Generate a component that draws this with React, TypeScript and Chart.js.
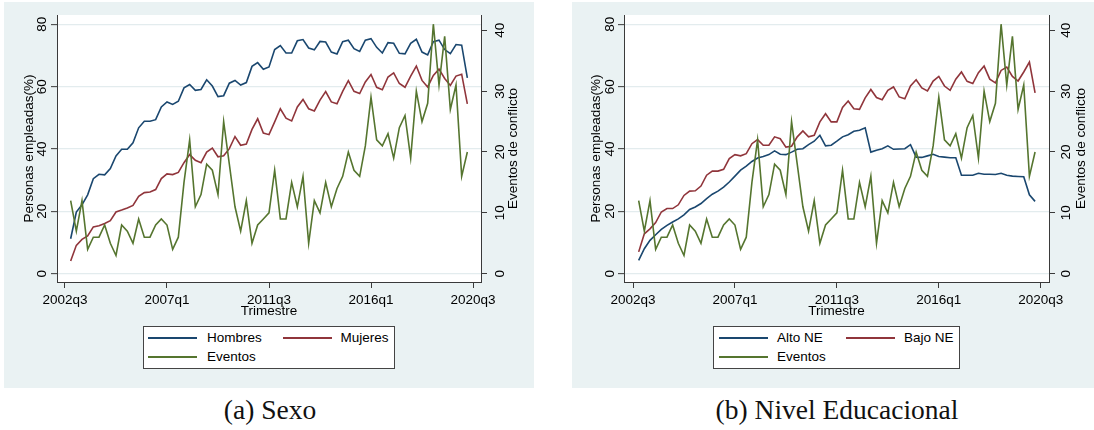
import React, { useEffect, useRef } from "react";
import { Chart, registerables } from "chart.js";

Chart.register(...registerables);

const FONT = "'Liberation Sans', Arial, Helvetica, sans-serif";
const SERIF = "'Liberation Serif', 'Times New Roman', serif";
const BG = "#EAF2F3";
const GRID = "#E3ECEE";
const AXIS = "#3a3a3a";
const NAVY = "#1A476F";
const MAROON = "#90353B";
const GREEN = "#55752F";

// ---------- data ----------
// quarters 2002q4 .. 2020q2
const quarters: string[] = [];
for (let y = 2002; y <= 2020; y++) {
  for (let q = 1; q <= 4; q++) {
    if ((y === 2002 && q < 4) || (y === 2020 && q > 2)) continue;
    quarters.push(`${y}q${q}`);
  }
}
const xTickLabels = ["2002q3", "2007q1", "2011q3", "2016q1", "2020q3"];
const leftTicks = [0, 20, 40, 60, 80];
const rightTicks = [0, 10, 20, 30, 40];

const hombres = [
  11.2, 19.8, 22.1, 25.3, 30.5, 31.9, 31.7, 33.7, 37.8, 39.9, 39.9, 42.0,
  46.8, 48.9, 48.9, 49.4, 53.5, 55.1, 54.3, 55.3, 59.6, 60.7, 58.8, 59.1,
  62.2, 60.2, 56.8, 57.1, 61.1, 62.0, 60.5, 61.3, 66.5, 67.7, 65.6, 66.3,
  71.9, 73.2, 70.8, 70.8, 74.7, 75.1, 72.4, 71.8, 74.5, 74.3, 71.1, 70.5,
  74.4, 74.9, 72.2, 71.3, 74.9, 75.4, 72.6, 70.8, 74.1, 73.9, 70.7, 70.5,
  73.9, 75.2, 71.1, 70.2, 74.4, 74.9, 71.9, 70.6, 73.5, 73.3, 62.8,
];
const mujeres = [
  4.1, 9.1, 11.0, 12.1, 15.0, 15.4, 16.1, 17.0, 19.8, 20.4, 21.1, 21.9,
  24.8, 26.0, 26.2, 27.0, 30.5, 32.0, 31.8, 32.5, 35.6, 38.2, 36.4, 35.6,
  39.0, 40.3, 37.5, 37.8, 40.1, 44.0, 41.2, 41.6, 46.3, 49.7, 45.1, 44.6,
  48.7, 52.9, 49.9, 49.0, 53.5, 55.9, 52.9, 52.2, 55.7, 58.4, 55.1, 54.5,
  58.5, 61.9, 58.5, 57.8, 61.5, 63.9, 59.8, 59.0, 63.1, 64.4, 61.0, 59.8,
  63.4, 66.6, 62.0, 59.9, 63.6, 65.6, 62.6, 60.4, 63.4, 64.0, 54.5,
];
const eventos = [
  12, 7, 12, 4, 6, 6, 8, 5, 3, 8, 7, 5,
  9, 6, 6, 8, 9, 8, 4, 6, 15, 22, 11, 13,
  18, 17, 13, 25, 18, 11, 7, 12, 5, 8, 9, 10,
  17, 9, 9, 15, 11, 16, 5, 12, 10, 15, 11, 14,
  16, 20, 17, 16, 21, 29, 22, 21, 23, 19, 24, 26,
  19, 30, 25, 28, 41, 31, 39, 27, 31, 16, 20,
];
const altoNE = [
  4.3, 8.0, 10.7, 12.5, 14.2, 15.5, 16.6, 17.6, 18.9, 20.6, 21.4, 22.5,
  24.1, 25.5, 26.5, 27.8, 29.4, 31.3, 33.2, 34.5, 36.0, 37.1, 37.6, 38.2,
  39.4, 38.3, 38.2, 39.0, 39.9, 40.1, 41.4, 42.5, 44.4, 41.0, 41.2, 42.5,
  43.9, 44.6, 45.7, 46.0, 46.8, 39.0, 39.6, 40.1, 41.0, 39.9, 40.0, 40.1,
  41.4, 37.4, 37.3, 37.8, 38.3, 37.6, 37.4, 37.2, 37.2, 31.6, 31.6, 31.6,
  32.2, 31.9, 31.9, 31.8, 32.2, 31.6, 31.3, 31.2, 31.1, 25.3, 23.2,
];
const bajoNE = [
  7.0, 12.8, 14.4, 16.4, 19.8, 20.9, 20.9, 22.1, 25.1, 26.5, 26.6, 28.1,
  31.6, 32.9, 32.9, 33.5, 36.9, 38.2, 37.8, 38.5, 41.7, 43.0, 41.2, 41.2,
  43.9, 43.3, 40.6, 40.9, 43.9, 45.8, 43.9, 44.4, 48.7, 51.3, 48.7, 48.7,
  53.3, 55.4, 52.9, 52.7, 56.4, 59.1, 56.5, 55.8, 58.8, 59.9, 56.7, 56.1,
  60.2, 62.2, 59.6, 58.6, 61.8, 63.3, 60.2, 58.8, 62.4, 64.7, 61.7, 61.0,
  64.5, 66.6, 62.4, 61.2, 65.2, 66.3, 63.3, 61.8, 64.7, 67.9, 58.0,
];

// quarter string -> index, 2002q3 = 0
const qIndex = (s: string) => {
  const [y, q] = s.split("q").map(Number);
  return (y - 2002) * 4 + (q - 3);
};

type Series = { label: string; data: number[]; color: string; axis: "y" | "y1" };
type LegendItem = { label: string; color: string; lineX: number; textX: number; y: number };

type PanelCfg = {
  left: number;
  top: number;
  width: number;
  height: number;
  plotLeft: number;
  plotRight: number;
  xMin: number;
  xMax: number;
  lTickDx: number;
  rTickDx: number;
  lTitleDx: number;
  rTitleDx: number;
  series: Series[];
  legendBox: { left: number; top: number; width: number; height: number };
  legendItems: LegendItem[];
  caption: string;
  captionX: number;
};

const FS = 13.5;

function Panel({ cfg }: { cfg: PanelCfg }) {
  const ref = useRef<HTMLCanvasElement>(null);
  useEffect(() => {
    if (!ref.current) return;
    const plotTop = 13;
    const plotBottom = 280;
    const xAxisH = 30;
    const rightW = cfg.width - cfg.plotRight;
    const stataPlugin = {
      id: "stataText",
      beforeDraw(chart: any) {
        const a = chart.chartArea;
        const ctx = chart.ctx;
        ctx.save();
        ctx.fillStyle = "#ffffff";
        ctx.fillRect(a.left, a.top, a.right - a.left, a.bottom - a.top);
        ctx.restore();
      },
      afterDraw(chart: any) {
        const a = chart.chartArea;
        const ctx = chart.ctx;
        const yL = chart.scales.y;
        const yR = chart.scales.y1;
        ctx.save();
        ctx.fillStyle = "#000";
        ctx.font = `${FS}px ${FONT}`;
        ctx.textAlign = "center";
        ctx.textBaseline = "alphabetic";
        const vOff = 0.358 * FS;
        for (const v of leftTicks) {
          const py = yL.getPixelForValue(v);
          ctx.save();
          ctx.translate(a.left + cfg.lTickDx + vOff, py);
          ctx.rotate(-Math.PI / 2);
          ctx.fillText(String(v), 0, 0);
          ctx.restore();
        }
        for (const v of rightTicks) {
          const py = yR.getPixelForValue(v);
          ctx.save();
          ctx.translate(a.right + cfg.rTickDx + vOff, py);
          ctx.rotate(-Math.PI / 2);
          ctx.fillText(String(v), 0, 0);
          ctx.restore();
        }
        const midY = (a.top + a.bottom) / 2;
        ctx.save();
        ctx.translate(a.left + cfg.lTitleDx, midY);
        ctx.rotate(-Math.PI / 2);
        ctx.fillText("Personas empleadas(%)", 0, 0);
        ctx.restore();
        ctx.save();
        ctx.translate(a.right + cfg.rTitleDx, midY);
        ctx.rotate(-Math.PI / 2);
        ctx.fillText("Eventos de conflicto", 0, 0);
        ctx.restore();
        ctx.fillText("Trimestre", (a.left + a.right) / 2, 313);
        ctx.restore();
      },
    };

    const datasets = cfg.series
      .map((s, i) => ({
        label: s.label,
        data: s.data.map((v, k) => ({ x: qIndex(quarters[k]), y: v })),
        borderColor: s.color,
        backgroundColor: s.color,
        borderWidth: 1.6,
        pointRadius: 0,
        tension: 0,
        fill: false,
        yAxisID: s.axis,
        order: cfg.series.length - i,
      }));

    const chart = new Chart(ref.current, {
      type: "line",
      data: { datasets },
      options: {
        animation: false,
        responsive: false,
        maintainAspectRatio: false,
        events: [],
        layout: {
          padding: {
            left: 0,
            right: 0,
            top: plotTop,
            bottom: cfg.height - plotBottom - xAxisH,
          },
        },
        plugins: {
          legend: { display: false },
          tooltip: { enabled: false },
          title: { display: false },
        },
        scales: {
          x: {
            type: "linear",
            min: cfg.xMin,
            max: cfg.xMax,
            afterBuildTicks: (s: any) => {
              s.ticks = xTickLabels.map((t) => ({ value: qIndex(t) }));
            },
            afterFit: (s: any) => {
              s.height = xAxisH;
            },
            ticks: {
              callback: (_v: any, i: number) => xTickLabels[i],
              font: { size: FS, family: FONT },
              color: "#000",
              padding: 4,
              maxRotation: 0,
              minRotation: 0,
              autoSkip: false,
            },
            grid: {
              drawOnChartArea: false,
              drawTicks: true,
              tickLength: 6,
              tickColor: AXIS,
              tickWidth: 1,
            },
            border: { display: true, color: AXIS, width: 1 },
          },
          y: {
            type: "linear",
            position: "left",
            min: -2.66,
            max: 82.98,
            afterBuildTicks: (s: any) => {
              s.ticks = leftTicks.map((v) => ({ value: v }));
            },
            afterFit: (s: any) => {
              s.width = cfg.plotLeft;
            },
            ticks: { display: false },
            grid: {
              drawOnChartArea: true,
              color: GRID,
              lineWidth: 1.3,
              drawTicks: true,
              tickLength: 6,
              tickColor: AXIS,
              tickWidth: 1,
            },
            border: { display: true, color: AXIS, width: 1 },
          },
          y1: {
            type: "linear",
            position: "right",
            min: -1.36,
            max: 42.51,
            afterBuildTicks: (s: any) => {
              s.ticks = rightTicks.map((v) => ({ value: v }));
            },
            afterFit: (s: any) => {
              s.width = rightW;
            },
            ticks: { display: false },
            grid: {
              drawOnChartArea: false,
              drawTicks: true,
              tickLength: 6,
              tickColor: AXIS,
              tickWidth: 1,
            },
            border: { display: true, color: AXIS, width: 1 },
          },
        },
      } as any,
      plugins: [stataPlugin],
    });
    return () => chart.destroy();
  }, [cfg]);

  return (
    <>
      <canvas
        ref={ref}
        width={cfg.width}
        height={cfg.height}
        style={{
          position: "absolute",
          left: cfg.left,
          top: cfg.top,
          width: cfg.width,
          height: cfg.height,
          background: BG,
        }}
      />
      <div
        style={{
          position: "absolute",
          left: cfg.legendBox.left,
          top: cfg.legendBox.top,
          width: cfg.legendBox.width,
          height: cfg.legendBox.height,
          boxSizing: "border-box",
          border: "1px solid #444",
          background: "#fff",
        }}
      />
      {cfg.legendItems.map((it) => (
        <React.Fragment key={it.label}>
          <div
            style={{
              position: "absolute",
              left: it.lineX,
              top: it.y - 0.75,
              width: 49,
              height: 1.5,
              background: it.color,
            }}
          />
          <div
            style={{
              position: "absolute",
              left: it.textX,
              top: it.y - 9,
              height: 18,
              lineHeight: "18px",
              fontFamily: FONT,
              fontSize: FS,
              color: "#000",
              whiteSpace: "nowrap",
            }}
          >
            {it.label}
          </div>
        </React.Fragment>
      ))}
      <div
        style={{
          position: "absolute",
          left: cfg.captionX - 200,
          top: 394,
          width: 400,
          height: 32,
          lineHeight: "32px",
          textAlign: "center",
          fontFamily: SERIF,
          fontSize: 27.5,
          color: "#111",
          whiteSpace: "nowrap",
        }}
      >
        {cfg.caption}
      </div>
    </>
  );
}

const panelA: PanelCfg = {
  left: 4,
  top: 2,
  width: 530,
  height: 386,
  plotLeft: 53,
  plotRight: 477,
  xMin: -1.41,
  xMax: 73.41,
  lTickDx: -15.8,
  rTickDx: 17.8,
  lTitleDx: -23.7,
  rTitleDx: 35.7,
  series: [
    { label: "Hombres", data: hombres, color: NAVY, axis: "y" },
    { label: "Mujeres", data: mujeres, color: MAROON, axis: "y" },
    { label: "Eventos", data: eventos, color: GREEN, axis: "y1" },
  ],
  legendBox: { left: 143, top: 326, width: 252, height: 43 },
  legendItems: [
    { label: "Hombres", color: NAVY, lineX: 148, textX: 207, y: 338 },
    { label: "Mujeres", color: MAROON, lineX: 283, textX: 340.5, y: 338 },
    { label: "Eventos", color: GREEN, lineX: 148, textX: 207, y: 357 },
  ],
  caption: "(a) Sexo",
  captionX: 270,
};

const panelB: PanelCfg = {
  left: 572,
  top: 2,
  width: 522,
  height: 386,
  plotLeft: 52,
  plotRight: 477,
  xMin: -1.59,
  xMax: 73.46,
  lTickDx: -14.5,
  rTickDx: 16.5,
  lTitleDx: -23.6,
  rTitleDx: 36,
  series: [
    { label: "Alto NE", data: altoNE, color: NAVY, axis: "y" },
    { label: "Bajo NE", data: bajoNE, color: MAROON, axis: "y" },
    { label: "Eventos", data: eventos, color: GREEN, axis: "y1" },
  ],
  legendBox: { left: 713, top: 326, width: 247, height: 43 },
  legendItems: [
    { label: "Alto NE", color: NAVY, lineX: 719, textX: 777, y: 338 },
    { label: "Bajo NE", color: MAROON, lineX: 846, textX: 904, y: 338 },
    { label: "Eventos", color: GREEN, lineX: 719, textX: 777, y: 357 },
  ],
  caption: "(b) Nivel Educacional",
  captionX: 837,
};

export default function App() {
  return (
    <div
      style={{
        position: "absolute",
        left: 0,
        top: 0,
        width: 1094,
        height: 430,
        overflow: "hidden",
        background: "#fff",
      }}
    >
      <Panel cfg={panelA} />
      <Panel cfg={panelB} />
    </div>
  );
}
